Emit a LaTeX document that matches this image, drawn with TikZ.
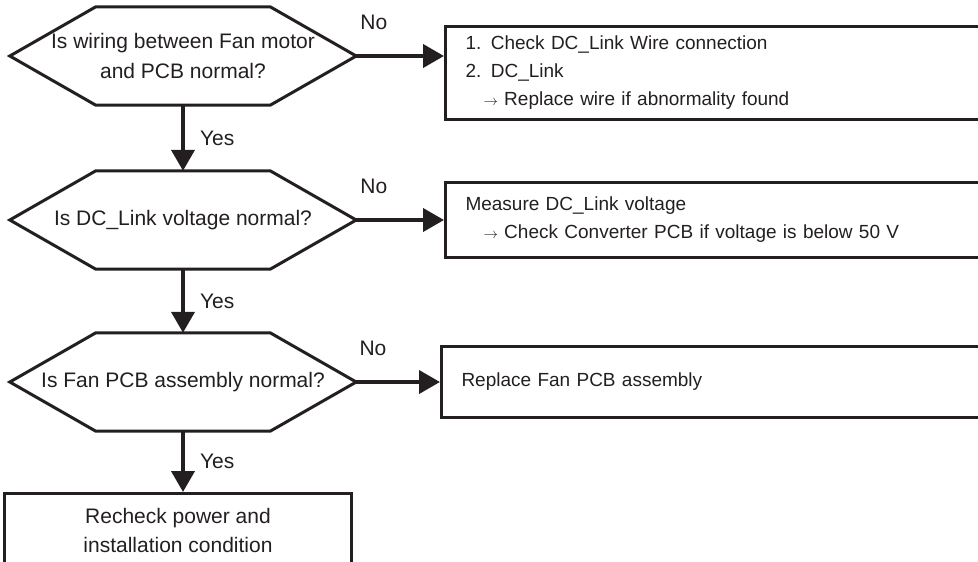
\documentclass[tikz,border=0pt]{standalone}
\usepackage{fontspec}
\setmainfont{Liberation Sans}
\usepackage{tikz}
\usetikzlibrary{arrows.meta,positioning,calc}
\definecolor{ink}{HTML}{231F20}
\newcommand{\rarr}{{\fontsize{15}{15}\selectfont$\rightarrow$}}
\tikzset{
  question/.style={minimum width=346pt,minimum height=98pt,inner sep=0pt,align=center,text=ink,font=\fontsize{21}{30}\selectfont},
  outline/.style={line width=3pt,draw=ink},
  actbox/.style={draw=ink,line width=3pt,anchor=north west,text width=520pt,inner xsep=20pt,inner ysep=0pt,align=left,text=ink,font=\fontsize{19}{28}\selectfont},
  endbox/.style={draw=ink,line width=3pt,anchor=north,minimum width=347pt,minimum height=74pt,align=center,text=ink,font=\fontsize{21}{29}\selectfont},
  flow/.style={-{Triangle[length=21pt,width=23pt]},line width=4pt,draw=ink,fill=ink},
  lbl/.style={inner sep=0pt,text=ink,font=\fontsize{21}{25}\selectfont},
}

\begin{document}
\begin{tikzpicture}[x=1pt,y=-1pt]
  \useasboundingbox (0,0) rectangle (978,562);
  \clip (0,0) rectangle (978,562);
  % questions
  \node[question] (q1) at (183,56) {Is wiring between Fan motor\\and PCB normal?};
  \node[question] (q2) at (183,220) {Is DC\_Link voltage normal?};
  \node[question] (q3) at (183,382) {Is Fan PCB assembly normal?};
  \foreach \q in {q1,q2,q3}
    \draw[outline] (\q.west) -- ($(\q.north west)+(86,0)$) -- ($(\q.north east)+(-86,0)$) -- (\q.east)
      -- ($(\q.south east)+(-86,0)$) -- ($(\q.south west)+(86,0)$) -- cycle;
  % actions
  \node[actbox,minimum height=93pt] (a1) at (444,25) {1. Check DC\_Link Wire connection\\2. DC\_Link\\\hspace*{18pt}\rarr{} Replace wire if abnormality found};
  \node[actbox,minimum height=75pt] (a2) at (444,181) {Measure DC\_Link voltage\\\hspace*{18pt}\rarr{} Check Converter PCB if voltage is below 50 V};
  \node[actbox,minimum height=71pt] (a3) at (440,345) {Replace Fan PCB assembly};
  \node[endbox] (fin) at (178,492) {Recheck power and\\installation condition};
  % connectors
  \draw[flow] (q1.east) -- (q1.east -| a1.west) node[lbl,pos=0.2,above=24pt] {No};
  \draw[flow] (q2.east) -- (q2.east -| a2.west) node[lbl,pos=0.2,above=24pt] {No};
  \draw[flow] (q3.east) -- (q3.east -| a3.west) node[lbl,pos=0.2,above=24pt] {No};
  \draw[flow] (q1.south) -- (q2.north) node[lbl,midway,right=15pt] {Yes};
  \draw[flow] (q2.south) -- (q3.north) node[lbl,midway,right=15pt] {Yes};
  \draw[flow] (q3.south) -- (q3.south |- fin.north) node[lbl,midway,right=15pt] {Yes};
\end{tikzpicture}
\end{document}
